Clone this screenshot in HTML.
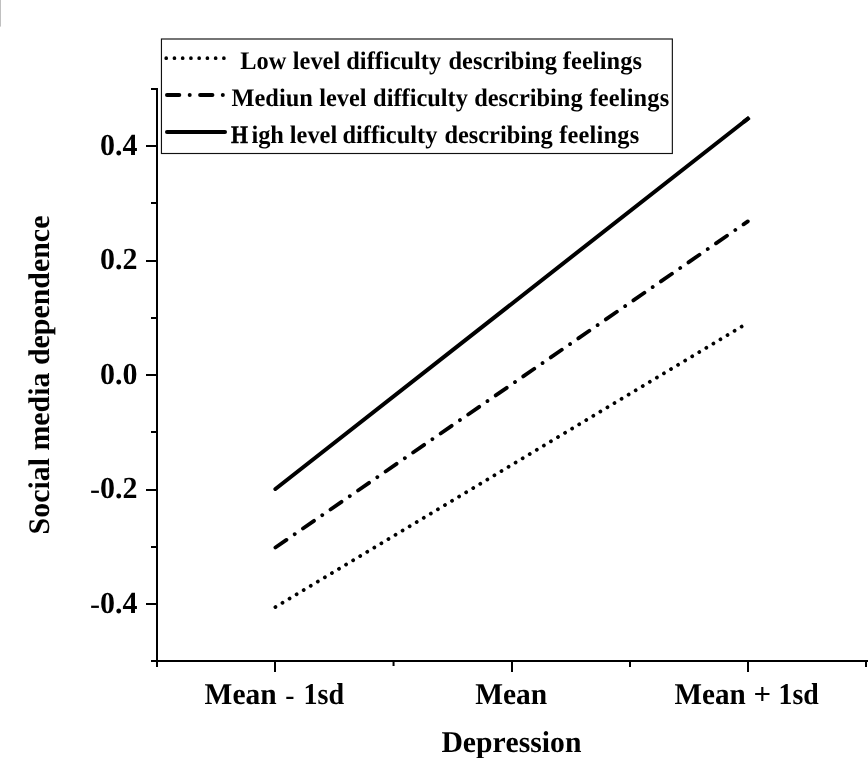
<!DOCTYPE html>
<html>
<head>
<meta charset="utf-8">
<title>Depression and social media dependence</title>
<style>
html,body{margin:0;padding:0;background:#fff;}
body{width:868px;height:758px;overflow:hidden;}
svg{display:block;will-change:transform;}
text{font-family:"Liberation Serif","Times New Roman",serif;font-weight:bold;fill:#000;font-variant-ligatures:none;font-kerning:none;text-rendering:geometricPrecision;}
.t{font-size:30px;}
.x{font-size:30.2px;}
.y{font-size:30.6px;}
.l{font-size:24.4px;}
.h{font-weight:normal;}
</style>
</head>
<body>
<svg width="868" height="758" viewBox="0 0 868 758">
<rect x="0" y="0" width="868" height="758" fill="#fff"/>
<!-- corner artifact -->
<rect x="0" y="0" width="1" height="26.6" fill="#c0c0c0"/>
<!-- axes -->
<g fill="#000" shape-rendering="crispEdges">
<rect x="156" y="88" width="2" height="579"/>
<rect x="151" y="660" width="717" height="2"/>
<!-- y minor ticks -->
<rect x="151" y="88" width="6" height="2"/>
<rect x="151" y="202" width="6" height="2"/>
<rect x="151" y="317" width="6" height="2"/>
<rect x="151" y="431" width="6" height="2"/>
<rect x="151" y="546" width="6" height="2"/>
<!-- y major ticks -->
<rect x="146" y="145" width="11" height="2"/>
<rect x="146" y="260" width="11" height="2"/>
<rect x="146" y="374" width="11" height="2"/>
<rect x="146" y="489" width="11" height="2"/>
<rect x="146" y="603" width="11" height="2"/>
<!-- x minor ticks -->
<rect x="392.55" y="661" width="2" height="5" shape-rendering="geometricPrecision"/>
<rect x="629" y="661" width="2" height="6"/>
<rect x="865" y="661" width="2" height="6"/>
<!-- x major ticks -->
<rect x="274" y="661" width="2" height="11"/>
<rect x="511" y="661" width="2" height="11"/>
<rect x="747" y="661" width="2" height="11"/>
</g>
<!-- data lines -->
<g stroke="#000" stroke-width="4" fill="none">
<line x1="275.4" y1="489" x2="747.8" y2="118.7" stroke-linecap="round"/>
<line x1="745" y1="120.9" x2="747.8" y2="118.7" stroke-linecap="square"/>
<line x1="275.4" y1="547.5" x2="747.8" y2="221.4" stroke-width="3.8" stroke-linecap="round" stroke-dasharray="13.4 10.05 0.01 10"/>
<line x1="275.4" y1="607.1" x2="747.8" y2="322.9" stroke-width="3.8" stroke-linecap="round" stroke-dasharray="0.01 8.234"/>
</g>
<!-- y tick labels -->
<g class="t y" text-anchor="end">
<text x="137.4" y="155" textLength="37.5" lengthAdjust="spacingAndGlyphs">0.4</text>
<text x="137.4" y="269.4" textLength="37.5" lengthAdjust="spacingAndGlyphs">0.2</text>
<text x="137.4" y="383.8" textLength="37.5" lengthAdjust="spacingAndGlyphs">0.0</text>
<text x="137.4" y="498.2" textLength="47.5" lengthAdjust="spacingAndGlyphs"><tspan class="h" dy="1">-</tspan><tspan dy="-1">0.2</tspan></text>
<text x="137.4" y="612.6" textLength="47.5" lengthAdjust="spacingAndGlyphs"><tspan class="h" dy="1">-</tspan><tspan dy="-1">0.4</tspan></text>
</g>
<!-- x tick labels -->
<g class="t x">
<text y="704"><tspan x="204.6" textLength="72" lengthAdjust="spacingAndGlyphs">Mean</tspan> <tspan class="h" x="285.3" dy="1" textLength="9.2" lengthAdjust="spacingAndGlyphs">-</tspan> <tspan x="303.5" dy="-1" textLength="40.6" lengthAdjust="spacingAndGlyphs">1sd</tspan></text>
<text y="704"><tspan x="475.2" textLength="72" lengthAdjust="spacingAndGlyphs">Mean</tspan></text>
<text y="704"><tspan x="674.6" textLength="71.2" lengthAdjust="spacingAndGlyphs">Mean</tspan> <tspan x="753.4" textLength="17.6" lengthAdjust="spacingAndGlyphs">+</tspan> <tspan x="778.6" textLength="40.2" lengthAdjust="spacingAndGlyphs">1sd</tspan></text>
<text y="752"><tspan x="441.4" textLength="140" lengthAdjust="spacingAndGlyphs">Depression</tspan></text>
<text transform="translate(48.8 375) rotate(-90)" text-anchor="middle" style="font-size:29.9px">Social media dependence</text>
</g>
<!-- legend -->
<rect x="161.45" y="39" width="510.9" height="114.5" fill="#fff" stroke="#111" stroke-width="1.15"/>
<g stroke="#000" stroke-width="4" fill="none">
<line x1="166.2" y1="58.2" x2="226" y2="58.2" stroke-width="3.7" stroke-linecap="round" stroke-dasharray="0.01 8.23"/>
<line x1="167" y1="95" x2="225" y2="95" stroke-linecap="round" stroke-dasharray="12.3 10.4 0.01 10.4"/>
<line x1="167" y1="132.1" x2="225" y2="132.1" stroke-linecap="round"/>
</g>
<g class="l">
<text y="69" transform="translate(0 69) scale(1 1.035) translate(0 -69)"><tspan x="240.3">Low</tspan> <tspan x="292.8">level</tspan> <tspan x="346.3">difficulty</tspan> <tspan x="448.5">describing</tspan> <tspan x="562.7" letter-spacing="0.12">feelings</tspan></text>
<text y="105.7" transform="translate(0 105.7) scale(1 1.035) translate(0 -105.7)"><tspan x="231.5">Mediun</tspan> <tspan x="319.2">level</tspan> <tspan x="373.1">difficulty</tspan> <tspan x="474.2">describing</tspan> <tspan x="589.5" letter-spacing="0.15">feelings</tspan></text>
<text y="142.8" transform="translate(0 142.8) scale(1 1.035) translate(0 -142.8)"><tspan x="231" textLength="17" lengthAdjust="spacingAndGlyphs" stroke="#000" stroke-width="0.5">H</tspan><tspan x="251.4">igh</tspan> <tspan x="289.8">level</tspan> <tspan x="342.5">difficulty</tspan> <tspan x="444.4">describing</tspan> <tspan x="559.2" letter-spacing="0.2">feelings</tspan></text>
</g>
</svg>
</body>
</html>
